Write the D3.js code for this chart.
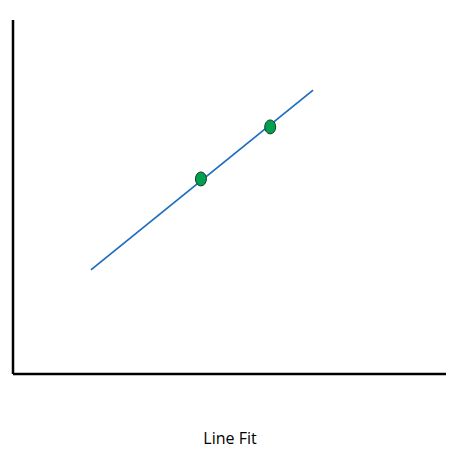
<!DOCTYPE html>
<html>
<head>
<meta charset="utf-8">
<script src="https://cdn.jsdelivr.net/npm/d3@7"></script>
<style>body{margin:0;background:#fff;}</style>
</head>
<body>
<script>
var width = 458, height = 454;

// fitted line end points and observed points (data units)
var fitLine = [{x: 1.8, y: 2.94}, {x: 6.93, y: 8.02}];
var points = [{x: 4.34, y: 5.51}, {x: 5.94, y: 6.98}];
var title = "Line Fit";

var xScale = d3.scaleLinear().domain([0, 10]).range([13, 446]);
var yScale = d3.scaleLinear().domain([0, 10]).range([374, 20]);

var svg = d3.select("body").append("svg")
    .attr("width", width)
    .attr("height", height);

// axes
svg.append("line")
    .attr("x1", xScale(0)).attr("y1", yScale(10))
    .attr("x2", xScale(0)).attr("y2", yScale(0))
    .attr("stroke", "#000").attr("stroke-width", 2.5);
svg.append("line")
    .attr("x1", xScale(0)).attr("y1", yScale(0))
    .attr("x2", xScale(10)).attr("y2", yScale(0))
    .attr("stroke", "#000").attr("stroke-width", 2.5);

var line = d3.line()
    .x(function(d) { return xScale(d.x); })
    .y(function(d) { return yScale(d.y); });

svg.append("path")
    .datum(fitLine)
    .attr("d", line)
    .attr("fill", "none")
    .attr("stroke", "#1f6fc0")
    .attr("stroke-width", 1.8);

svg.selectAll("ellipse")
    .data(points)
    .enter()
    .append("ellipse")
    .attr("cx", function(d) { return xScale(d.x); })
    .attr("cy", function(d) { return yScale(d.y); })
    .attr("rx", 5.5)
    .attr("ry", 7)
    .attr("fill", "#00a050")
    .attr("stroke", "#1a3a2a")
    .attr("stroke-width", 1);

svg.append("text")
    .attr("x", 230)
    .attr("y", 444)
    .attr("text-anchor", "middle")
    .attr("font-family", "'Open Sans', sans-serif")
    .attr("font-size", 16)
    .text(title);
</script>
</body>
</html>
